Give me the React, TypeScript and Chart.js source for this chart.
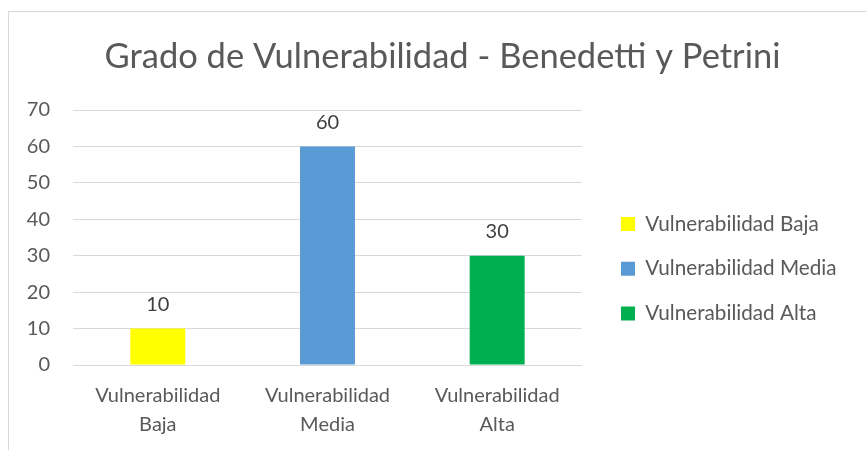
import React, { useEffect, useRef } from "react";
import { Chart, registerables } from "chart.js";

Chart.register(...registerables);

const title = "Grado de Vulnerabilidad - Benedetti y Petrini";
const categories = ["Vulnerabilidad Baja", "Vulnerabilidad Media", "Vulnerabilidad Alta"];
const categoryLines = [["Vulnerabilidad", "Baja"], ["Vulnerabilidad", "Media"], ["Vulnerabilidad", "Alta"]];
const values = [10, 60, 30];
const colors = ["#FFFF00", "#5B9BD5", "#00B050"];
const yTicks = { min: 0, max: 70, step: 10 };

const FONT = "Lato, 'Open Sans', sans-serif";
const TEXT = "#595959";
const LEGEND_SIZE = 20.7;
const LEGEND_BOX = 14;
const LEGEND_PAD = 24;
const LEGEND_BOX_LEFT = 621;
const LEGEND_FIRST_CENTER = 224;
const TITLE_CENTER_X = 442.5;
const PLOT_LEFT = 73;
const PLOT_RIGHT = 582;
const PLOT_BOTTOM = 365;

const dataLabels = {
  id: "dataLabels",
  afterDatasetsDraw(chart: any) {
    const ctx = chart.ctx;
    const meta = chart.getDatasetMeta(0);
    ctx.save();
    ctx.font = `20px ${FONT}`;
    ctx.fillStyle = "#404040";
    ctx.textAlign = "center";
    ctx.textBaseline = "middle";
    meta.data.forEach((el: any, i: number) => {
      ctx.fillText(String(values[i]), el.x, el.y - 24);
    });
    ctx.restore();
  },
};

const placeBoxes = {
  id: "placeBoxes",
  afterLayout(chart: any) {
    const t = chart.titleBlock;
    if (t) {
      const shift = TITLE_CENTER_X - (t.left + t.right) / 2;
      t.left += shift;
      t.right += shift;
    }
    const lg = chart.legend;
    if (lg && lg.columnSizes && lg.columnSizes[0]) {
      const h = lg.bottom - lg.top;
      const colH = lg.columnSizes[0].height;
      const firstTop = LEGEND_FIRST_CENTER - LEGEND_SIZE / 2;
      const top = firstTop - (LEGEND_PAD + h - colH) / 2;
      lg.top = top;
      lg.bottom = top + h;
    }
  },
};

export default function App() {
  const ref = useRef<HTMLCanvasElement>(null);
  useEffect(() => {
    if (!ref.current) return;
    const mctx = document.createElement("canvas").getContext("2d")!;
    mctx.font = `${LEGEND_SIZE}px ${FONT}`;
    const textW = Math.max(...categories.map((c) => mctx.measureText(c).width));
    const legendW = LEGEND_PAD + LEGEND_BOX + LEGEND_SIZE / 2 + textW + 10;
    const legendLeft = LEGEND_BOX_LEFT - LEGEND_PAD;
    const pr = Math.max(0, 866 - legendLeft - legendW);

    const chart = new Chart(ref.current, {
      type: "bar",
      data: {
        labels: categoryLines as any,
        datasets: [
          {
            data: values,
            backgroundColor: colors,
            borderWidth: 0,
            categoryPercentage: 1,
            barPercentage: 0.324,
          },
        ],
      },
      options: {
        animation: false,
        responsive: false,
        maintainAspectRatio: false,
        layout: { padding: { left: 0, right: pr, top: 0, bottom: 0 } },
        plugins: {
          title: {
            display: true,
            text: title,
            color: TEXT,
            font: { family: FONT, size: 34.5, weight: "normal", lineHeight: 1.2 },
            padding: { top: 36, bottom: 32.6 },
          },
          legend: {
            display: true,
            position: "right",
            align: "center",
            maxWidth: 500,
            labels: {
              color: TEXT,
              font: { family: FONT, size: LEGEND_SIZE },
              boxWidth: LEGEND_BOX,
              boxHeight: LEGEND_BOX,
              padding: LEGEND_PAD,
              generateLabels: () =>
                categories.map((c, i) => ({
                  text: c,
                  fillStyle: colors[i],
                  strokeStyle: colors[i],
                  lineWidth: 0,
                  hidden: false,
                  index: i,
                  fontColor: TEXT,
                })),
            },
          },
          tooltip: { enabled: false },
        },
        scales: {
          x: {
            grid: { display: false, drawTicks: false },
            border: { display: false },
            ticks: {
              color: TEXT,
              font: { family: FONT, size: 20, lineHeight: 1.45 },
              padding: 16.5,
              maxRotation: 0,
            },
            afterFit: (s: any) => {
              s.height = 450 - PLOT_BOTTOM;
            },
          },
          y: {
            min: yTicks.min,
            max: yTicks.max,
            ticks: {
              stepSize: yTicks.step,
              color: TEXT,
              font: { family: FONT, size: 20 },
              padding: 23,
            },
            grid: { color: "#d9d9d9", drawTicks: false, lineWidth: 1 },
            border: { display: false },
            afterFit: (s: any) => {
              s.width = PLOT_LEFT;
            },
          },
          yR: {
            position: "right",
            display: true,
            grid: { display: false, drawTicks: false },
            ticks: { display: false },
            border: { display: false },
            afterFit: (s: any) => {
              s.width = legendLeft - PLOT_RIGHT;
            },
          },
        },
      },
      plugins: [dataLabels, placeBoxes],
    });
    return () => chart.destroy();
  }, []);

  return (
    <div style={{ position: "absolute", left: 0, top: 0, width: 866, height: 450, overflow: "hidden", background: "#fff" }}>
      <div
        style={{
          position: "absolute",
          left: 8,
          top: 11,
          width: 900,
          height: 500,
          border: "1px solid #d9d9d9",
          boxSizing: "border-box",
        }}
      />
      <canvas ref={ref} width={866} height={450} style={{ position: "absolute", left: 0, top: 0 }} />
    </div>
  );
}
